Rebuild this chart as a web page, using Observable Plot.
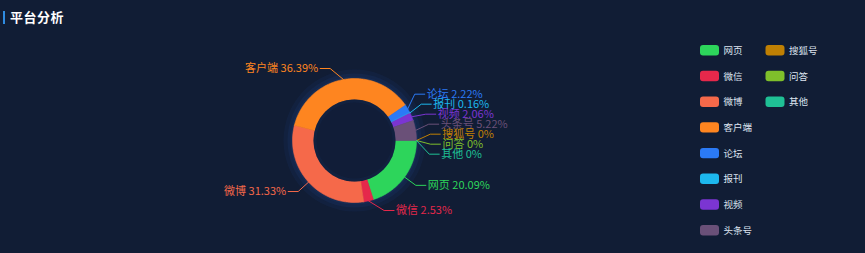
<!DOCTYPE html>
<html><head><meta charset="utf-8">
<script src="https://cdn.jsdelivr.net/npm/d3@7"></script>
<script src="https://cdn.jsdelivr.net/npm/@observablehq/plot@0.6"></script>
<style>
html,body{margin:0;padding:0;background:#111d35;}
#wrap{position:relative;width:865px;height:253px;overflow:hidden;font-family:"Noto Sans CJK SC","Noto Sans",sans-serif;}
#chart{position:absolute;left:0;top:0;}
#title{position:absolute;left:10px;top:8px;color:#ffffff;font-size:13px;font-weight:bold;line-height:18px;letter-spacing:0.5px;}
#bar{position:absolute;left:3px;top:11px;width:2px;height:13px;background:#2f8be0;}
</style></head><body>
<div id="wrap"><div id="chart"></div><div id="bar"></div><div id="title">平台分析</div></div>
<script>
// ---- data ----
const categories = ["网页","微信","微博","客户端","论坛","报刊","视频","头条号","搜狐号","问答","其他"];
const values = [20.09, 2.53, 31.33, 36.39, 2.22, 0.16, 2.06, 5.22, 0, 0, 0];
const colors = ["#2dd55b","#e5284b","#f5694a","#fe8520","#2b7af6","#1db8ee","#7b35d2","#6a5078","#c08003","#7fbf2b","#1fc095"];

// ---- layout constants ----
const W = 865, H = 253;
const cx = 354, cy = 140, rIn = 41, rOut = 62, rLab = 76, seg2 = 10, gap = 2, lineH = 10, yMin = 68, yMax = 210;

const total = d3.sum(values);
let cum = 0;
const slices = categories.map((c, i) => {
  const a0 = cum / total * 2 * Math.PI; cum += values[i];
  const a1 = cum / total * 2 * Math.PI;
  return {cat: c, value: values[i], color: colors[i], a0, a1, mid: (a0 + a1) / 2};
});

// arc polygons
function arcPoly(s) {
  const n = Math.max(2, Math.ceil((s.a1 - s.a0) / (Math.PI / 180)));
  const pts = [];
  for (let k = 0; k <= n; k++) { const a = s.a0 + (s.a1 - s.a0) * k / n; pts.push({cat: s.cat, x: cx + rOut * Math.cos(a), y: cy + rOut * Math.sin(a)}); }
  for (let k = n; k >= 0; k--) { const a = s.a0 + (s.a1 - s.a0) * k / n; pts.push({cat: s.cat, x: cx + rIn * Math.cos(a), y: cy + rIn * Math.sin(a)}); }
  pts.push({...pts[0]});
  return pts;
}

// label layout
const labels = slices.map(s => ({...s, side: Math.cos(s.mid) >= 0 ? 1 : -1,
  y: Math.max(yMin, Math.min(yMax, cy + rLab * Math.sin(s.mid)))}));
function resolve(list) {
  list.sort((a, b) => a.y - b.y);
  let cl = list.map(l => ({items: [l], center: l.y}));
  let merged = true;
  while (merged) {
    merged = false;
    for (let i = 0; i < cl.length - 1; i++) {
      const a = cl[i], b = cl[i + 1];
      const aB = a.center + (a.items.length - 1) * lineH / 2;
      const bT = b.center - (b.items.length - 1) * lineH / 2;
      if (bT - aB < lineH) {
        const items = a.items.concat(b.items);
        cl.splice(i, 2, {items, center: d3.mean(items, d => d.y)});
        merged = true; break;
      }
    }
  }
  for (const c of cl) c.items.forEach((l, k) => { l.ly = c.center + (k - (c.items.length - 1) / 2) * lineH; });
}
resolve(labels.filter(l => l.side > 0));
resolve(labels.filter(l => l.side < 0));
const leaderPts = [];
for (const l of labels) {
  const dy = l.ly - cy;
  const ex = cx + l.side * Math.sqrt(Math.max(0, rLab * rLab - dy * dy));
  l.tx = ex + l.side * (seg2 + gap);
  l.text = `${l.cat} ${l.value}%`;
  leaderPts.push({cat: l.cat, x: cx + rOut * Math.cos(l.mid), y: cy + rOut * Math.sin(l.mid)});
  leaderPts.push({cat: l.cat, x: ex, y: l.ly});
  leaderPts.push({cat: l.cat, x: ex + l.side * seg2, y: l.ly});
}

// legend layout
const legend = categories.map((c, i) => {
  const col = i < 8 ? 0 : 1, row = i < 8 ? i : i - 8;
  const x1 = 700 + col * 65.5, yc = 50.3 + row * 25.7;
  return {cat: c, x1, x2: x1 + 19, y1: yc - 5.2, y2: yc + 5.2, tx: x1 + 23, yc};
});

const center = [{x: cx, y: cy}];
const glow = [
  Plot.dot(center, {x: "x", y: "y", r: rOut + 9, fill: "#1b3a70", fillOpacity: 0.18}),
  Plot.dot(center, {x: "x", y: "y", r: rOut + 5, fill: "#1b3a70", fillOpacity: 0.22}),
  Plot.dot(center, {x: "x", y: "y", r: rOut + 2, fill: "#1b3a70", fillOpacity: 0.25})
];
const innerGlow = [
  Plot.dot(center, {x: "x", y: "y", r: rIn, fill: "#12213f"}),
  Plot.dot(center, {x: "x", y: "y", r: rIn - 3, fill: "#111d38"})
];

const sliceMarks = slices.filter(s => s.value > 0).map(s =>
  Plot.line(arcPoly(s), {x: "x", y: "y", fill: s.color, stroke: s.color, strokeWidth: 0.6, curve: "linear"}));

const chart = Plot.plot({
  width: W, height: H, margin: 0,
  style: {background: "transparent", fontFamily: '"Noto Sans CJK SC","Noto Sans",sans-serif'},
  x: {domain: [0, W], range: [0, W], axis: null},
  y: {domain: [0, H], range: [0, H], axis: null},
  r: {type: "identity"},
  color: {type: "ordinal", domain: categories, range: colors},
  marks: [
    ...glow,
    ...sliceMarks,
    ...innerGlow,
    Plot.line(leaderPts, {x: "x", y: "y", z: "cat", stroke: "cat", strokeWidth: 1, curve: "linear"}),
    Plot.text(labels.filter(l => l.side > 0), {x: "tx", y: "ly", text: "text", fill: "cat", textAnchor: "start", fontSize: 11}),
    Plot.text(labels.filter(l => l.side < 0), {x: "tx", y: "ly", text: "text", fill: "cat", textAnchor: "end", fontSize: 11}),
    Plot.rect(legend, {x1: "x1", x2: "x2", y1: "y1", y2: "y2", fill: "cat", rx: 3}),
    Plot.text(legend, {x: "tx", y: "yc", text: "cat", fill: "#dde4f0", textAnchor: "start", fontSize: 9.5})
  ]
});
document.getElementById("chart").appendChild(chart);
</script>
</body></html>
